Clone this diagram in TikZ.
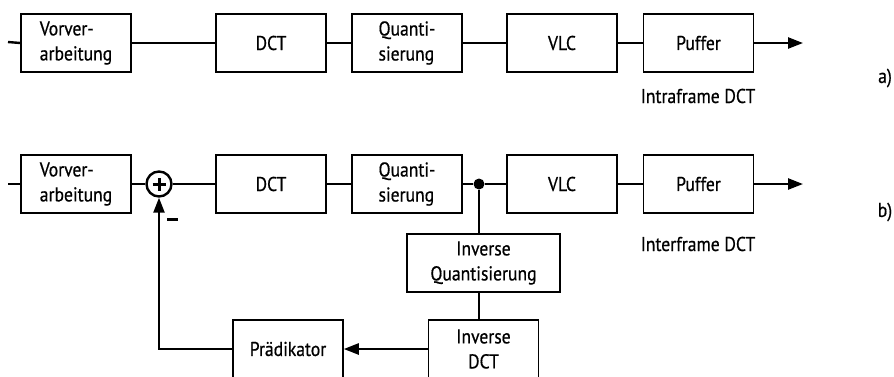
\documentclass[tikz,border=0pt]{standalone}
\usepackage{fontspec}
\setmainfont{PT Sans}[FakeStretch=0.88, FakeBold=0.6]
\usetikzlibrary{arrows.meta}

\tikzset{
  blk/.style={draw, line width=1.5pt, minimum width=110pt, minimum height=58pt,
              inner sep=0pt, align=center, font=\fontsize{20}{25}\selectfont},
  blkl/.style={blk, align=left},
  conn/.style={line width=2.4pt},
  arr/.style={conn, -{Triangle[length=15pt,width=11pt]}},
  lbl/.style={inner sep=0pt, font=\fontsize{20}{25}\selectfont},
}

\begin{document}
\begin{tikzpicture}[x=1pt, y=-1pt]
  \useasboundingbox (0,0) rectangle (894,376);
  \clip (0,0) rectangle (894,376);

  % ---- a) intraframe coder ----
  \coordinate (ina) at (8,42);
  \node[blkl] (va) at (76,43)    {Vorver-\\arbeitung};
  \node[blk]  (da) at (271,43)   {DCT};
  \node[blkl] (qa) at (407,43)   {Quanti-\\sierung};
  \node[blk]  (la) at (562,43)   {VLC};
  \node[blk]  (pa) at (698.5,43) {Puffer};
  \coordinate (outa) at (803,43);
  \node[lbl] (ta) at (698,96) {Intraframe DCT};
  \node[lbl] (a)  at (885,78) {a)};

  \draw[conn] (ina) -- (va.west);
  \draw[conn] (va.east) -- (da.west);
  \draw[conn] (da.east) -- (qa.west);
  \draw[conn] (qa.east) -- (la.west);
  \draw[conn] (la.east) -- (pa.west);
  \draw[arr]  (pa.east) -- (outa);

  % ---- b) interframe coder with prediction loop ----
  \coordinate (inb) at (8,184);
  \node[blkl] (vb) at (76,184)    {Vorver-\\arbeitung};
  \node[circle, draw, line width=2.4pt, minimum size=25pt, inner sep=0pt] (sum) at (159,184) {};
  \node[blk]  (db) at (271,184)   {DCT};
  \node[blkl] (qb) at (407,184)   {Quanti-\\sierung};
  \node[circle, fill, minimum size=11pt, inner sep=0pt] (jn) at (479,184) {};
  \node[blk]  (lb) at (562,184)   {VLC};
  \node[blk]  (pb) at (698.5,184) {Puffer};
  \coordinate (outb) at (803,184);
  \node[lbl] (tb) at (698,244) {Interframe DCT};
  \node[lbl] (b)  at (885,212) {b)};

  \node[blk, minimum width=153pt] (iq) at (483.5,263) {Inverse\\Quantisierung};
  \node[blk] (id) at (483.5,349) {Inverse\\DCT};
  \node[blk] (pr) at (288,349)   {Prädikator};
  \coordinate (fb) at (159,349);

  % plus sign inside the summing point
  \draw[line width=3pt] ([xshift=-6.5pt]sum.center) -- ([xshift=6.5pt]sum.center)
                        ([yshift=-6.5pt]sum.center) -- ([yshift=6.5pt]sum.center);
  % minus sign at the subtracting input
  \draw[line width=3pt] (167,219) -- (178,219);

  \draw[conn] (inb) -- (vb.west);
  \draw[conn] (vb.east) -- (sum.west);
  \draw[conn] (sum.east) -- (db.west);
  \draw[conn] (db.east) -- (qb.west);
  \draw[conn] (qb.east) -- (jn) -- (lb.west);
  \draw[conn] (lb.east) -- (pb.west);
  \draw[arr]  (pb.east) -- (outb);

  \draw[conn] (jn) -- (jn |- iq.north);
  \draw[conn] (jn |- iq.south) -- (jn |- id.north);
  \draw[arr]  (id.west) -- (pr.east);
  \draw[arr]  (pr.west) -- (fb) -- (sum.south);
\end{tikzpicture}
\end{document}
